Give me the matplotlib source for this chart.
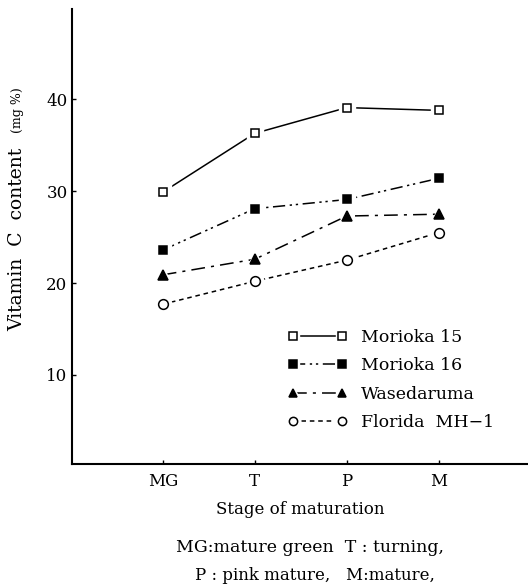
"""
Vitamin C content of tomato cultivars by stage of maturation.
"""

import matplotlib
matplotlib.use('Agg')
import matplotlib.pyplot as plt
from matplotlib.legend_handler import HandlerTuple

# data
stages = ['MG', 'T', 'P', 'M']
cultivars = ['Morioka 15', 'Morioka 16', 'Wasedaruma', 'Florida  MH\u22121']
morioka15 = [29.9, 36.3, 39.1, 38.8]
morioka16 = [23.6, 28.1, 29.1, 31.4]
wasedaruma = [20.9, 22.6, 27.3, 27.5]
florida = [17.7, 20.2, 22.5, 25.5]
yticks = [10, 20, 30, 40]

series = [morioka15, morioka16, wasedaruma, florida]
markers = ['s', 's', '^', 'o']
faces = ['w', 'k', 'k', 'w']
msizes = [6.0, 6.0, 6.5, 7.0]
styles = ['-', (0, (8, 3, 1.5, 2.5, 1.5, 3)), (0, (9, 4, 2, 4)), (0, (3, 2.5))]

plt.rcParams['font.family'] = 'DejaVu Serif'

W, H = 528, 587
fig = plt.figure(figsize=(W/100, H/100), dpi=100)
ax = fig.add_axes([71.7/W, 1-464.3/H, 1-71.7/W, (464.3-9.3)/H])

x = list(range(len(stages)))
handles = []
for ii, vals in enumerate(series):
    ln, = ax.plot(x, vals, linestyle=styles[ii], color='k', linewidth=1.1, zorder=2)
    halo, = ax.plot(x, vals, linestyle='none', marker=markers[ii], ms=msizes[ii]+5,
                    mfc='w', mec='w', zorder=3)
    mk, = ax.plot(x, vals, linestyle='none', marker=markers[ii], ms=msizes[ii],
                  mfc=faces[ii], mec='k', mew=1.1, zorder=4)
    handles.append((ln, halo, mk))

ax.set_xlim(-0.99, 3.97)
ax.set_ylim(0.28, 49.8)
ax.set_xticks(x)
ax.set_xticklabels(stages)
ax.set_yticks(yticks)

for s in ['top', 'right']:
    ax.spines[s].set_visible(False)
for s in ['left', 'bottom']:
    ax.spines[s].set_linewidth(1.5)
ax.tick_params(direction='in', length=3, width=1, labelsize=12)
ax.tick_params(axis='y', pad=3)
ax.tick_params(axis='x', pad=6)

leg = ax.legend(handles, cultivars, handler_map={tuple: HandlerTuple(ndivide=1, pad=0)},
                numpoints=2, frameon=False, fontsize=12.5, handlelength=3.4,
                markerscale=0.85, handletextpad=0.8, labelspacing=0.66,
                borderpad=0, borderaxespad=0,
                loc='upper left', bbox_to_anchor=(288/W, 1-329/H),
                bbox_transform=fig.transFigure)

# axis labels
fig.text(17/W, 1-239/H, 'Vitamin  C  content', rotation=90, ha='center', va='center',
         fontsize=13.5)
fig.text(17/W, 1-110/H, '(mg %)', rotation=90, ha='center', va='center', fontsize=9)
fig.text(300/W, 1-510/H, 'Stage of maturation', ha='center', va='center', fontsize=12)

# caption
fig.text(310/W, 1-548/H, 'MG:mature green  T : turning,', ha='center', va='center',
         fontsize=12.5)
fig.text(315/W, 1-575/H, 'P : pink mature,   M:mature,', ha='center', va='center',
         fontsize=12)

plt.savefig('out.png', dpi=100)
